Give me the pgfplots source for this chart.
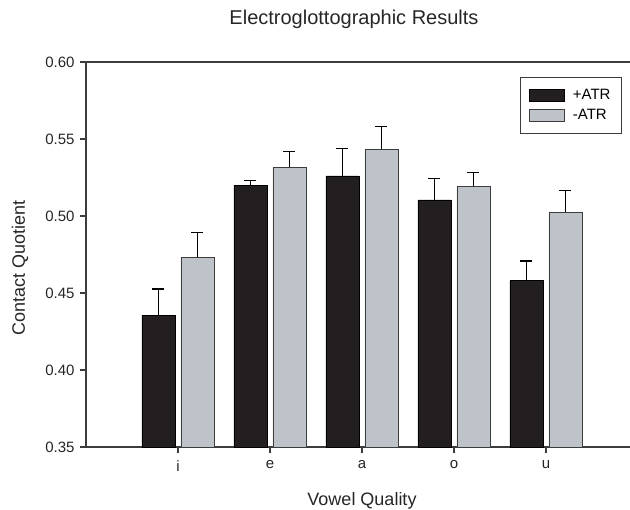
\documentclass[border=0pt]{standalone}
\usepackage{fontspec}
\setmainfont{Liberation Sans}
\usepackage{pgfplots}
\pgfplotsset{compat=1.18}
\definecolor{barblack}{HTML}{231F20}
\definecolor{bargray}{HTML}{BEC2C9}
\definecolor{axisgray}{HTML}{3C3C3C}
\begin{document}
\begin{tikzpicture}
\begin{axis}[
  name=ax, scale only axis, width=546bp, height=385bp,
  xmin=0, xmax=5.935, ymin=0.35, ymax=0.60,
  ytick={0.35,0.40,0.45,0.50,0.55,0.60},
  yticklabel style={/pgf/number format/fixed, /pgf/number format/fixed zerofill, /pgf/number format/precision=2},
  /pgf/number format/assume math mode=true,
  xtick={1,2,3,4,5}, xticklabels={i,e,a,o,u},
  xtick pos=bottom, ytick pos=left, tick align=outside, major tick length=6bp,
  axis line style={draw=axisgray, line width=1.2bp},
  tick style={draw=axisgray, line width=1.2bp},
  ticklabel style={font=\fontsize{15bp}{18bp}\selectfont, text=black!85},
  xticklabel style={yshift=-4bp},
  yticklabel style={xshift=-2bp},
  ybar, bar width=33bp,
  title={Electroglottographic Results},
  title style={at={(axis description cs:0.4908,1.096)}, anchor=center, font=\fontsize{20bp}{24bp}\selectfont, text=black!85},
  xlabel={Vowel Quality},
  xlabel style={at={(axis description cs:0.5055,-0.1403)}, anchor=center, font=\fontsize{18bp}{22bp}\selectfont, text=black!85},
  ylabel={Contact Quotient},
  ylabel style={at={(axis description cs:-0.1209,0.465)}, anchor=center, font=\fontsize{18bp}{22bp}\selectfont, text=black!85},
  legend style={at={(axis description cs:0.9817,0.961)}, anchor=north east, draw=axisgray, line width=1bp,
    font=\fontsize{15bp}{18bp}\selectfont, inner xsep=9bp, inner ysep=10bp, row sep=4bp,
    /tikz/every odd column/.append style={column sep=6bp}},
  legend cell align=left,
  legend image code/.code={\draw[#1, line width=0.8bp] (0bp,-6bp) rectangle (35bp,6bp);},
  error bars/y dir=plus, error bars/y explicit,
  error bars/error bar style={line width=1.2bp, black},
  error bars/error mark options={line width=1.2bp, black, mark size=6bp, rotate=90},
]
\addplot[fill=barblack, draw=black, line width=0.8bp, bar shift=-19.5bp] coordinates {
  (1,0.4357) +- (0,0.0169)
  (2,0.5201) +- (0,0.0028)
  (3,0.5260) +- (0,0.0177)
  (4,0.5104) +- (0,0.0138)
  (5,0.4580) +- (0,0.0128)
};
\addplot[fill=bargray, draw=axisgray, line width=0.8bp, bar shift=19.5bp] coordinates {
  (1,0.4732) +- (0,0.0160)
  (2,0.5316) +- (0,0.0102)
  (3,0.5433) +- (0,0.0149)
  (4,0.5193) +- (0,0.0088)
  (5,0.5024) +- (0,0.0140)
};
\legend{+ATR,-ATR}
\coordinate (LL) at (rel axis cs:0,0);
\end{axis}
\pgfresetboundingbox
\path (LL) ++(-86bp,-63bp) rectangle ++(630bp,510bp);
\end{tikzpicture}
\end{document}
